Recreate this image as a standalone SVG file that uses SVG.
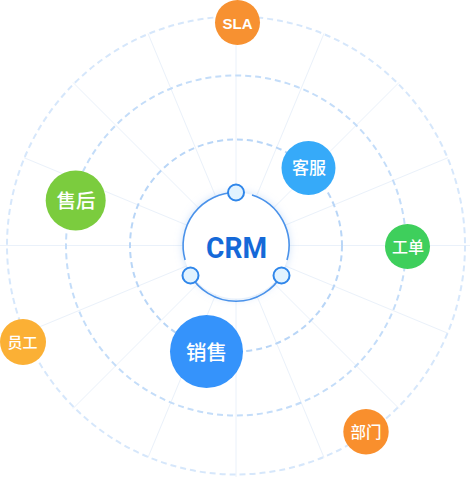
<svg xmlns="http://www.w3.org/2000/svg" width="470" height="479" viewBox="0 0 470 479">
  <defs>
    <filter id="glow" x="-40%" y="-40%" width="180%" height="180%">
      <feGaussianBlur in="SourceAlpha" stdDeviation="5"/>
      <feFlood flood-color="#9cc4f2" flood-opacity="0.55"/>
      <feComposite operator="in" in2="SourceAlpha"/>
      <feGaussianBlur stdDeviation="4"/>
      <feMerge><feMergeNode/><feMergeNode in="SourceGraphic"/></feMerge>
    </filter>
    <style>
      .spoke{stroke:#eaf1fa;stroke-width:1;fill:none}
      .ring{fill:none;stroke-width:2;stroke-dasharray:6 4}
      .node text{fill:#ffffff;text-anchor:middle;font-family:"Noto Sans CJK SC","Noto Sans",sans-serif;font-weight:500}
      .node text.latin{font-family:"Liberation Sans",Arial,sans-serif;font-weight:700}
      .arc{fill:none;stroke:#4a92ea;stroke-width:1.6}
      .port{fill:#e2f3ff;stroke:#2f86ea;stroke-width:2}
    </style>
  </defs>
  <rect width="470" height="479" fill="#ffffff"/>

  <g id="connectors">
    <g id="spokes">
      <line class="spoke" x1="289" y1="245.5" x2="470" y2="245.5"/>
      <line class="spoke" x1="285" y1="265.8" x2="448" y2="333.3"/>
      <line class="spoke" x1="273.5" y1="283" x2="399" y2="408.5"/>
      <line class="spoke" x1="256.3" y1="294.5" x2="324" y2="457.5"/>
      <line class="spoke" x1="236" y1="298.5" x2="236" y2="477"/>
      <line class="spoke" x1="215.7" y1="294.5" x2="148" y2="457.5"/>
      <line class="spoke" x1="198.5" y1="283" x2="73" y2="408.5"/>
      <line class="spoke" x1="187" y1="265.8" x2="24" y2="333.3"/>
      <line class="spoke" x1="183" y1="245.5" x2="0" y2="245.5"/>
      <line class="spoke" x1="187" y1="225.2" x2="24" y2="157.7"/>
      <line class="spoke" x1="198.5" y1="208" x2="73" y2="82.5"/>
      <line class="spoke" x1="215.7" y1="196.5" x2="148" y2="33.5"/>
      <line class="spoke" x1="236" y1="192.5" x2="236" y2="20" stroke="#e1ebf8"/>
      <line class="spoke" x1="256.3" y1="196.5" x2="324" y2="33.5"/>
      <line class="spoke" x1="273.5" y1="208" x2="399" y2="82.5"/>
      <line class="spoke" x1="285" y1="225.2" x2="448" y2="157.7"/>
    </g>
    <circle class="ring" cx="236" cy="245.5" r="229" stroke="#d6e7fb"/>
    <circle class="ring" cx="236" cy="245.5" r="170" stroke="#c4ddf9"/>
    <circle class="ring" cx="236" cy="245.5" r="106" stroke="#b9d6f7"/>
  </g>

  <g id="crm">
    <circle cx="236" cy="245.5" r="53" fill="#ffffff" filter="url(#glow)"/>
    <path class="arc" d="M 185.1 260 A 53 53 0 0 1 236 192.5"/>
    <path class="arc" d="M 252 195 A 53 53 0 0 1 287 260"/>
    <path class="arc" d="M 281.5 275.5 A 53 53 0 0 1 190.5 275.5"/>
    <circle class="port" cx="236" cy="192.5" r="8"/>
    <circle class="port" cx="190.5" cy="275.5" r="8"/>
    <circle class="port" cx="281.5" cy="275.5" r="8"/>
    <text x="236.5" y="257.5" text-anchor="middle" font-family="Roboto,'Liberation Sans',sans-serif" font-weight="700" font-size="30" fill="#1569d8" textLength="61" lengthAdjust="spacingAndGlyphs">CRM</text>
  </g>

  <g id="node-sla" class="node">
    <circle cx="237.5" cy="22.5" r="22.5" fill="#f79131"/>
    <text class="latin" x="237.5" y="28.5" font-size="15">SLA</text>
  </g>
  <g id="node-kefu" class="node">
    <circle cx="308.5" cy="168" r="27" fill="#36aaf9"/>
    <text x="309" y="174" font-size="17">客服</text>
  </g>
  <g id="node-shouhou" class="node">
    <circle cx="75.7" cy="200.5" r="30" fill="#7bcc3e"/>
    <text x="76" y="208" font-size="19.5">售后</text>
  </g>
  <g id="node-gongdan" class="node">
    <circle cx="407.5" cy="246.5" r="22.5" fill="#3ecf5c"/>
    <text x="408" y="252.5" font-size="16">工单</text>
  </g>
  <g id="node-yuangong" class="node">
    <circle cx="23" cy="342" r="23" fill="#fbb035"/>
    <text x="22.5" y="348" font-size="15">员工</text>
  </g>
  <g id="node-xiaoshou" class="node">
    <circle cx="206.5" cy="351.5" r="36.5" fill="#3593fb"/>
    <text x="206.5" y="359.5" font-size="20.5">销售</text>
  </g>
  <g id="node-bumen" class="node">
    <circle cx="366" cy="431.7" r="22.7" fill="#f98f2d"/>
    <text x="366" y="437.5" font-size="15.5">部门</text>
  </g>
</svg>
